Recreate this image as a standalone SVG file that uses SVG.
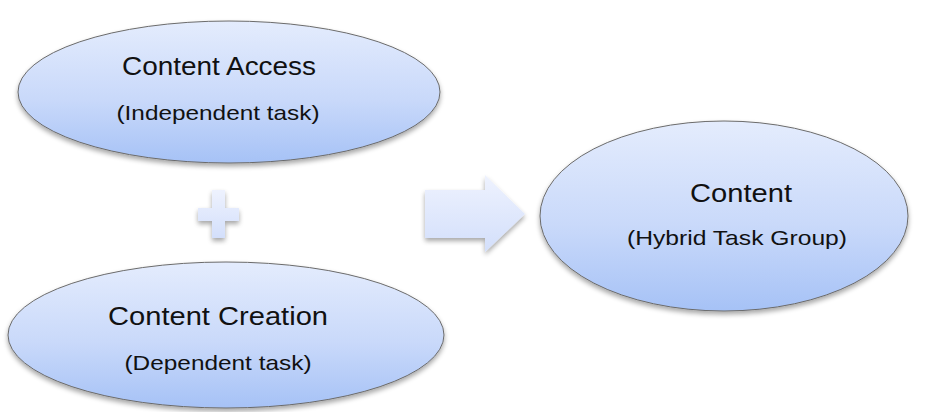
<svg xmlns="http://www.w3.org/2000/svg" width="933" height="412" viewBox="0 0 933 412">
  <defs>
    <linearGradient id="ovalFill" x1="0" y1="0" x2="0" y2="1">
      <stop offset="0" stop-color="#e4ecfd"/>
      <stop offset="0.55" stop-color="#c9d9fa"/>
      <stop offset="1" stop-color="#a6c2f6"/>
    </linearGradient>
    <linearGradient id="shapeFill" x1="0" y1="0" x2="0" y2="1">
      <stop offset="0" stop-color="#eef2fe"/>
      <stop offset="1" stop-color="#d3dffb"/>
    </linearGradient>
    <filter id="shadow" x="-20%" y="-20%" width="140%" height="150%">
      <feGaussianBlur in="SourceAlpha" stdDeviation="2.5"/>
      <feOffset dx="0" dy="3" result="b"/>
      <feComponentTransfer><feFuncA type="linear" slope="0.35"/></feComponentTransfer>
      <feMerge><feMergeNode/><feMergeNode in="SourceGraphic"/></feMerge>
    </filter>
  </defs>
  <style>
    .oval { fill: url(#ovalFill); stroke: #6b6b6b; stroke-width: 1; filter: url(#shadow); }
    .sym { fill: url(#shapeFill); filter: url(#shadow); }
    .title { font-family: "Liberation Sans", Arial, sans-serif; font-size: 26px; fill: #111; text-anchor: middle; }
    .sub { font-family: "Liberation Sans", Arial, sans-serif; font-size: 21px; fill: #111; text-anchor: middle; }
  </style>
  <rect width="933" height="412" fill="#ffffff"/>

  <g id="content-access">
    <ellipse class="oval" cx="229" cy="92" rx="211" ry="71"/>
    <text class="title" x="219" y="75" textLength="194" lengthAdjust="spacingAndGlyphs">Content Access</text>
    <text class="sub" x="218" y="120" textLength="203" lengthAdjust="spacingAndGlyphs">(Independent task)</text>
  </g>

  <g id="content-creation">
    <ellipse class="oval" cx="226" cy="335" rx="218" ry="73"/>
    <text class="title" x="218" y="325" textLength="220" lengthAdjust="spacingAndGlyphs">Content Creation</text>
    <text class="sub" x="218" y="370" textLength="187" lengthAdjust="spacingAndGlyphs">(Dependent task)</text>
  </g>

  <g id="content">
    <ellipse class="oval" cx="724" cy="216" rx="184" ry="95"/>
    <text class="title" x="741" y="202" textLength="102" lengthAdjust="spacingAndGlyphs">Content</text>
    <text class="sub" x="737" y="245" textLength="220" lengthAdjust="spacingAndGlyphs">(Hybrid Task Group)</text>
  </g>

  <g id="connectors">
    <!-- plus sign between the two task ovals -->
    <path class="sym" d="M212 190 H225 V208 H239 V221 H225 V238 H212 V221 H198 V208 H212 Z"/>
    <!-- block arrow pointing to the combined group -->
    <path class="sym" d="M425 190 H485 V175 L525 214 L485 252 V238 H425 Z"/>
  </g>
</svg>
